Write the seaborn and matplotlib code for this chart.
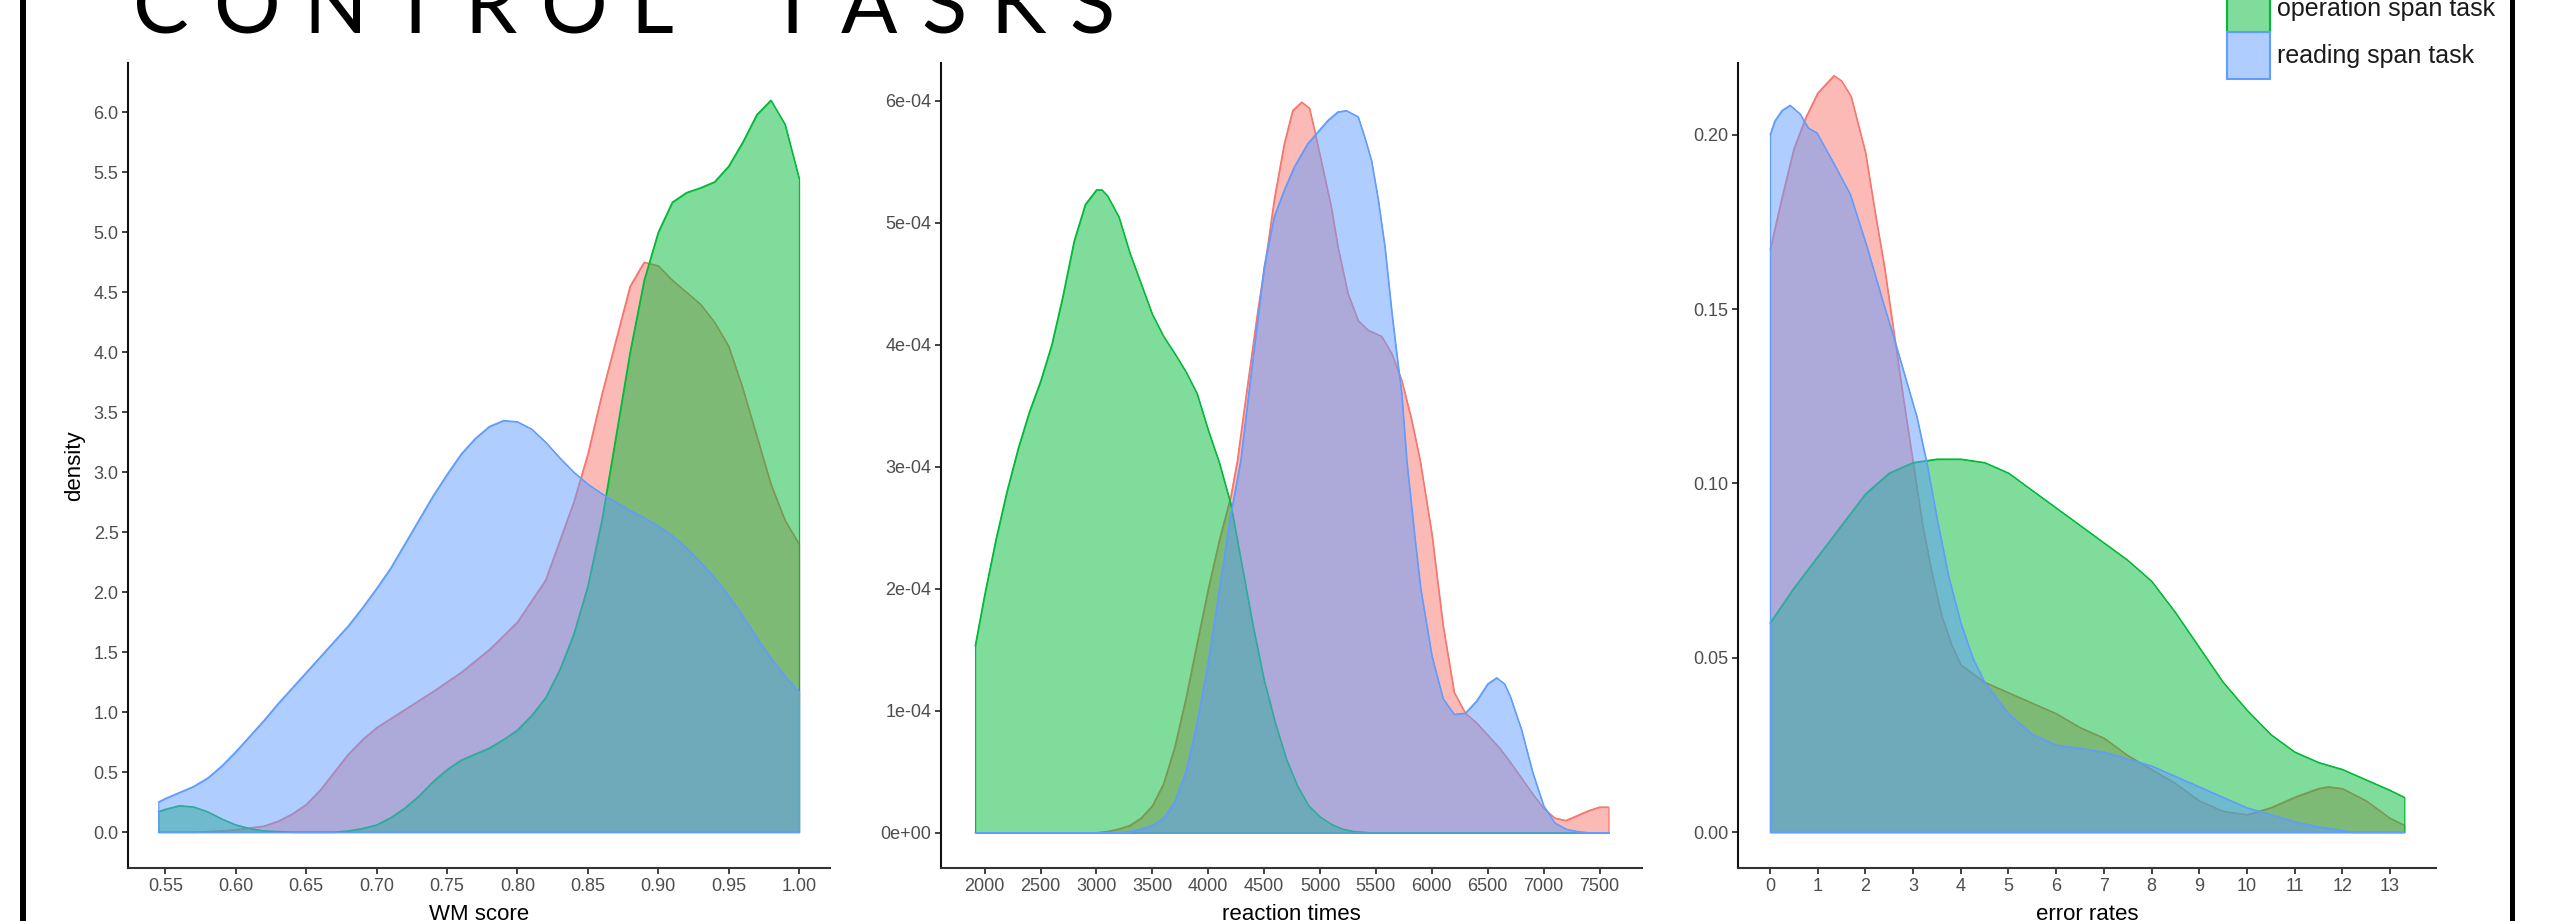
import numpy as np
import pandas as pd
import matplotlib
matplotlib.use("Agg")
import matplotlib.pyplot as plt
import seaborn as sns
from matplotlib.colors import to_rgba
from matplotlib.patches import Patch
from matplotlib.lines import Line2D

# ---------------- data: density curves per task ----------------
tasks = ["task 1", "operation span task", "reading span task"]
task_colors = ["#F8766D", "#00BA38", "#619CFF"]

# WM score
wm_x_red = [0.545, 0.57, 0.59, 0.60, 0.61, 0.62, 0.63, 0.64, 0.65, 0.66, 0.67, 0.68, 0.69, 0.70,
            0.72, 0.74, 0.76, 0.78, 0.80, 0.82, 0.84, 0.85, 0.86, 0.87, 0.88, 0.89, 0.90, 0.91,
            0.92, 0.93, 0.94, 0.95, 0.96, 0.97, 0.98, 0.99, 1.00]
wm_y_red = [0.0, 0.0, 0.01, 0.02, 0.035, 0.05, 0.09, 0.15, 0.23, 0.35, 0.5, 0.65, 0.77, 0.87,
            1.02, 1.17, 1.33, 1.52, 1.75, 2.1, 2.75, 3.15, 3.65, 4.1, 4.55, 4.75, 4.72, 4.6,
            4.5, 4.4, 4.25, 4.05, 3.7, 3.3, 2.9, 2.6, 2.4]
wm_x_green = [0.545, 0.55, 0.56, 0.57, 0.58, 0.59, 0.60, 0.61, 0.62, 0.64, 0.67, 0.68, 0.69, 0.70,
              0.71, 0.72, 0.73, 0.74, 0.75, 0.76, 0.77, 0.78, 0.79, 0.80, 0.81, 0.82, 0.83, 0.84,
              0.85, 0.86, 0.87, 0.88, 0.89, 0.90, 0.91, 0.92, 0.93, 0.94, 0.95, 0.96, 0.97, 0.98,
              0.99, 1.00]
wm_y_green = [0.17, 0.19, 0.22, 0.21, 0.17, 0.11, 0.06, 0.03, 0.01, 0.0, 0.0, 0.01, 0.03, 0.06,
              0.12, 0.2, 0.3, 0.42, 0.52, 0.6, 0.65, 0.7, 0.77, 0.85, 0.97, 1.12, 1.35, 1.65,
              2.05, 2.6, 3.3, 4.0, 4.6, 5.0, 5.25, 5.33, 5.37, 5.42, 5.55, 5.75, 5.98, 6.1,
              5.9, 5.45]
wm_x_blue = [0.545, 0.55, 0.56, 0.57, 0.58, 0.59, 0.60, 0.61, 0.62, 0.63, 0.64, 0.65, 0.66, 0.67,
             0.68, 0.69, 0.70, 0.71, 0.72, 0.73, 0.74, 0.75, 0.76, 0.77, 0.78, 0.79, 0.80, 0.81,
             0.82, 0.83, 0.84, 0.85, 0.86, 0.87, 0.88, 0.89, 0.90, 0.91, 0.92, 0.93, 0.94, 0.95,
             0.96, 0.97, 0.98, 0.99, 1.00]
wm_y_blue = [0.25, 0.28, 0.33, 0.38, 0.45, 0.55, 0.67, 0.8, 0.93, 1.07, 1.2, 1.33, 1.46, 1.59,
             1.72, 1.87, 2.03, 2.2, 2.4, 2.6, 2.8, 2.98, 3.15, 3.28, 3.38, 3.43, 3.42, 3.36,
             3.25, 3.12, 3.0, 2.9, 2.82, 2.75, 2.68, 2.62, 2.55, 2.47, 2.37, 2.25, 2.12, 1.97,
             1.8, 1.62, 1.45, 1.3, 1.17]

# reaction times (density in units of 1e-4)
rt_x_red = [1915, 3000, 3100, 3200, 3300, 3400, 3500, 3600, 3700, 3800, 3900, 4000, 4100, 4200,
            4260, 4320, 4440, 4530, 4590, 4680, 4755, 4836, 4905, 4950, 5010, 5100, 5160, 5250,
            5340, 5430, 5550, 5640, 5730, 5820, 5895, 6000, 6100, 6200, 6300, 6400, 6500, 6600,
            6700, 6800, 6900, 7000, 7100, 7200, 7300, 7400, 7500, 7580]
rt_y_red = [0.0, 0.0, 0.01, 0.03, 0.06, 0.12, 0.22, 0.4, 0.7, 1.1, 1.55, 2.0, 2.4, 2.75,
            3.05, 3.46, 4.26, 4.8, 5.19, 5.65, 5.92, 5.99, 5.94, 5.76, 5.51, 5.13, 4.8, 4.42,
            4.2, 4.12, 4.07, 3.93, 3.71, 3.38, 3.05, 2.45, 1.7, 1.15, 0.98, 0.9, 0.8, 0.7,
            0.58, 0.45, 0.32, 0.2, 0.12, 0.1, 0.14, 0.18, 0.21, 0.21]
rt_x_green = [1915, 2000, 2100, 2200, 2300, 2400, 2500, 2600, 2700, 2800, 2900, 3000, 3050, 3100,
              3200, 3300, 3400, 3500, 3600, 3700, 3800, 3900, 4000, 4100, 4200, 4300, 4400, 4500,
              4600, 4700, 4800, 4900, 5000, 5100, 5200, 5300, 5450, 7580]
rt_y_green = [1.53, 1.95, 2.4, 2.8, 3.15, 3.45, 3.7, 4.0, 4.4, 4.85, 5.15, 5.27, 5.27, 5.22,
              5.05, 4.75, 4.5, 4.25, 4.07, 3.93, 3.78, 3.6, 3.3, 3.03, 2.7, 2.2, 1.7, 1.25,
              0.9, 0.6, 0.38, 0.22, 0.13, 0.07, 0.03, 0.01, 0.0, 0.0]
rt_x_blue = [1915, 3200, 3300, 3400, 3500, 3600, 3700, 3800, 3900, 4000, 4100, 4200, 4290, 4380,
             4500, 4590, 4680, 4770, 4890, 5070, 5160, 5235, 5340, 5400, 5460, 5520, 5580, 5640,
             5685, 5730, 5775, 5850, 5900, 6000, 6100, 6200, 6300, 6400, 6500, 6580, 6650, 6700,
             6800, 6900, 7000, 7100, 7200, 7300, 7400, 7580]
rt_y_blue = [0.0, 0.0, 0.01, 0.03, 0.06, 0.12, 0.25, 0.5, 0.9, 1.4, 2.0, 2.6, 3.05, 3.74,
             4.64, 5.05, 5.27, 5.46, 5.65, 5.84, 5.91, 5.92, 5.87, 5.7, 5.51, 5.19, 4.8, 4.28,
             3.93, 3.6, 3.05, 2.4, 2.0, 1.45, 1.1, 0.97, 0.98, 1.08, 1.22, 1.27, 1.22, 1.12,
             0.85, 0.5, 0.22, 0.08, 0.03, 0.01, 0.0, 0.0]

# error rates
er_x_red = [0, 0.25, 0.5, 0.75, 1.0, 1.34, 1.5, 1.7, 2.0, 2.2, 2.4, 2.6, 2.8, 3.0, 3.2, 3.4, 3.6,
            3.8, 4.0, 4.5, 5.0, 5.5, 6.0, 6.5, 7.0, 7.5, 8.0, 8.5, 9.0, 9.5, 10.0, 10.5, 11.0,
            11.5, 11.7, 12.0, 12.5, 13.0, 13.3]
er_y_red = [0.167, 0.182, 0.196, 0.205, 0.212, 0.217, 0.2155, 0.211, 0.195, 0.178, 0.162, 0.143,
            0.124, 0.106, 0.088, 0.074, 0.062, 0.054, 0.048, 0.043, 0.04, 0.037, 0.034, 0.03,
            0.027, 0.022, 0.018, 0.014, 0.009, 0.006, 0.005, 0.007, 0.01, 0.0125, 0.013,
            0.0125, 0.009, 0.004, 0.002]
er_x_green = [0, 0.25, 0.5, 1.0, 1.5, 2.0, 2.5, 3.0, 3.5, 4.0, 4.5, 5.0, 5.5, 6.0, 6.5, 7.0, 7.5,
              8.0, 8.5, 9.0, 9.5, 10.0, 10.5, 11.0, 11.5, 12.0, 12.5, 13.0, 13.3]
er_y_green = [0.060, 0.065, 0.07, 0.079, 0.088, 0.097, 0.103, 0.106, 0.107, 0.107, 0.106, 0.103,
              0.098, 0.093, 0.088, 0.083, 0.078, 0.072, 0.063, 0.053, 0.043, 0.035, 0.028,
              0.023, 0.02, 0.018, 0.015, 0.012, 0.01]
er_x_blue = [0, 0.1, 0.25, 0.42, 0.63, 0.8, 0.98, 1.33, 1.68, 2.03, 2.37, 2.62, 3.08, 3.3, 3.5,
             3.75, 4.0, 4.25, 4.5, 5.0, 5.5, 6.0, 6.5, 7.0, 7.5, 8.0, 8.5, 9.0, 9.5, 10.0, 10.5,
             11.0, 11.5, 12.0, 12.2, 13.3]
er_y_blue = [0.200, 0.204, 0.207, 0.2085, 0.206, 0.202, 0.2006, 0.192, 0.183, 0.168, 0.152,
             0.1407, 0.119, 0.105, 0.09, 0.073, 0.06, 0.05, 0.043, 0.034, 0.028, 0.025, 0.024,
             0.023, 0.021, 0.019, 0.016, 0.013, 0.01, 0.007, 0.005, 0.003, 0.0015, 0.0005, 0.0,
             0.0]

# tick labels
wm_xticks = [0.55, 0.60, 0.65, 0.70, 0.75, 0.80, 0.85, 0.90, 0.95, 1.00]
wm_yticks = [0.0, 0.5, 1.0, 1.5, 2.0, 2.5, 3.0, 3.5, 4.0, 4.5, 5.0, 5.5, 6.0]
rt_xticks = [2000, 2500, 3000, 3500, 4000, 4500, 5000, 5500, 6000, 6500, 7000, 7500]
rt_yticks = [0, 1, 2, 3, 4, 5, 6]
rt_yticklabels = ["0e+00", "1e-04", "2e-04", "3e-04", "4e-04", "5e-04", "6e-04"]
er_xticks = list(range(0, 14))
er_yticks = [0.00, 0.05, 0.10, 0.15, 0.20]

# ---------------- style ----------------
sns.set_style("ticks")
plt.rcParams["font.family"] = ["Liberation Sans", "DejaVu Sans"]

W, H = 2550, 921
fig = plt.figure(figsize=(W / 100, H / 100), dpi=100)

bottom_px, top_px = 868, 63
def add_axes(left_px, right_px):
    return fig.add_axes([left_px / W, 1 - bottom_px / H,
                         (right_px - left_px) / W, (bottom_px - top_px) / H])

ax1 = add_axes(128.3, 830)
ax2 = add_axes(941, 1642)
ax3 = add_axes(1738.3, 2436)

tick_color = "#4D4D4D"


def draw_panel(ax, series, xlim, ylim, xticks, yticks, yticklabels, xlabel, ylabel=None):
    for i, ((xs, ys), color) in enumerate(zip(series, task_colors)):
        z = 2 + i
        ax.fill_between(xs, 0, ys, facecolor=to_rgba(color, 0.5), edgecolor=color,
                        linewidth=0.9, zorder=z)
        sns.lineplot(x=xs, y=ys, color=color, linewidth=0.9, estimator=None, sort=False,
                     ax=ax, zorder=z + 0.5)
    ax.set_xlim(*xlim)
    ax.set_ylim(*ylim)
    ax.set_xticks(xticks)
    ax.set_xticklabels([f"{t:.2f}" if isinstance(t, float) else str(t) for t in xticks])
    ax.set_yticks(yticks)
    ax.set_yticklabels(yticklabels)
    for side in ("top", "right"):
        ax.spines[side].set_visible(False)
    ax.spines["left"].set_color("#111111")
    ax.spines["bottom"].set_color("#333333")
    ax.spines["left"].set_linewidth(1.5)
    ax.spines["bottom"].set_linewidth(1.5)
    ax.tick_params(axis="both", length=4, width=1.3, color="#333333",
                   labelcolor=tick_color, labelsize=13, pad=3)
    ax.set_xlabel(xlabel, fontsize=16, color="black")
    ax.xaxis.set_label_coords(0.5, -0.045)
    if ylabel:
        ax.set_ylabel(ylabel, fontsize=16, color="black")
        ax.yaxis.set_label_coords(-0.062, 0.5)
    else:
        ax.set_ylabel("")
    ax.set_facecolor("white")


draw_panel(ax1,
           [(wm_x_red, wm_y_red), (wm_x_green, wm_y_green), (wm_x_blue, wm_y_blue)],
           (0.5237, 1.022), (-0.30, 6.41), wm_xticks, wm_yticks,
           [f"{v:.1f}" for v in wm_yticks], "WM score", "density")
draw_panel(ax2,
           [(rt_x_red, rt_y_red), (rt_x_green, rt_y_green), (rt_x_blue, rt_y_blue)],
           (1610, 7880), (-0.29, 6.31), rt_xticks, rt_yticks, rt_yticklabels,
           "reaction times")
draw_panel(ax3,
           [(er_x_red, er_y_red), (er_x_green, er_y_green), (er_x_blue, er_y_blue)],
           (-0.665, 13.965), (-0.0103, 0.2206), er_xticks, er_yticks,
           [f"{v:.2f}" for v in er_yticks], "error rates")

# ---------------- legend ----------------
legend_fs = 18
legend_fs_px = legend_fs * 100 / 72
handles = [Patch(facecolor=to_rgba(c, 0.5), edgecolor=c, linewidth=1.5)
           for c in task_colors[1:]]
key_h = 47 / legend_fs_px
fig.legend(handles=handles, labels=tasks[1:], loc="upper left",
           bbox_to_anchor=(2226.7 / W, 1 + 15 / H), frameon=False, borderpad=0,
           borderaxespad=0, fontsize=legend_fs, handlelength=43 / legend_fs_px,
           handleheight=(key_h - 0.245) / 0.65,
           labelspacing=0, handletextpad=7 / legend_fs_px, labelcolor="#1A1A1A")

# ---------------- slide title (letter-spaced) ----------------
title = "CONTROL TASKS"
fig.canvas.draw()
renderer = fig.canvas.get_renderer()
title_kw = dict(fontsize=60, family=["Lato", "DejaVu Sans"], color="black",
                va="baseline", ha="left")
widths = []
for ch in title:
    t = fig.text(0, 0, ch if ch != " " else "n", **title_kw)
    widths.append(t.get_window_extent(renderer).width)
    t.remove()
start_px, end_px = 133, 1115
n_gaps = len(title) - 1
tracking = (end_px - start_px - sum(widths)) / n_gaps
x = start_px
for ch, w in zip(title, widths):
    if ch != " ":
        fig.text(x / W, 1 - 33 / H, ch, **title_kw)
    x += w + tracking

# ---------------- slide frame edges ----------------
fig.add_artist(Line2D([22.5 / W, 22.5 / W], [0, 1], transform=fig.transFigure,
                      color="black", linewidth=4.3))
fig.add_artist(Line2D([2511.5 / W, 2511.5 / W], [0, 1], transform=fig.transFigure,
                      color="black", linewidth=3.6))

fig.savefig("out.png", dpi=100, facecolor="white")
